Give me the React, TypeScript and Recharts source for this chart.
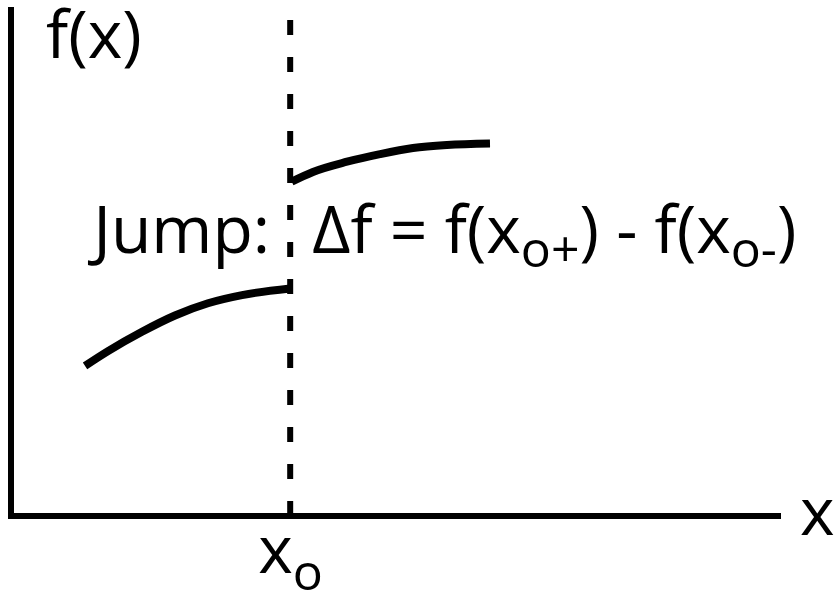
import React from 'react';
import {
  ComposedChart,
  Line,
  XAxis,
  YAxis,
  ReferenceLine,
  Label,
} from 'recharts';

// piece of f(x) left of the jump and piece right of it
const leftPiece = [
  { x: 0.965, y: 2.95 },
  { x: 1.265, y: 3.24 },
  { x: 1.708, y: 3.62 },
  { x: 2.138, y: 3.94 },
  { x: 2.568, y: 4.18 },
  { x: 3.012, y: 4.34 },
  { x: 3.64, y: 4.47 },
];

const rightPiece = [
  { x: 3.66, y: 6.57 },
  { x: 3.937, y: 6.76 },
  { x: 4.381, y: 6.96 },
  { x: 4.811, y: 7.11 },
  { x: 5.241, y: 7.23 },
  { x: 5.684, y: 7.29 },
  { x: 6.245, y: 7.32 },
];

const jumpAt = 3.64;
const xDomain = [0, 10];
const yDomain = [0, 10];

const font = '"Open Sans", "DejaVu Sans", sans-serif';
const big = 66;
const small = 50;

const JumpLabels = (props: any) => {
  const { x, y, height } = props.viewBox;
  const bottom = y + height;
  return (
    <g fill="#000" fontFamily={font}>
      <text x={x - 20} y={253} fontSize={big} textAnchor="end">Jump:</text>
      <text x={x + 22} y={253} fontSize={big}>
        Δf = f(x
        <tspan fontSize={small} dy={14}>o+</tspan>
        <tspan dy={-14}>) - f(x</tspan>
        <tspan fontSize={small} dy={14}>o-</tspan>
        <tspan dy={-14}>)</tspan>
      </text>
      <text x={x - 32} y={bottom + 57} fontSize={big}>
        x<tspan fontSize={small} dy={17}>o</tspan>
      </text>
    </g>
  );
};

const YLabel = (props: any) => {
  const { x, y } = props.viewBox;
  return (
    <text x={x + 36} y={y + 51} fontFamily={font} fontSize={big} fill="#000">
      f(x)
    </text>
  );
};

const XLabel = (props: any) => {
  const { x, y, width } = props.viewBox;
  return (
    <text x={x + width + 22} y={y + 19} fontFamily={font} fontSize={big} fill="#000">
      x
    </text>
  );
};

const App = () => {
  return (
    <div style={{ position: 'absolute', left: 0, top: 0, background: '#fff' }}>
      <ComposedChart
        width={834}
        height={598}
        margin={{ top: 7, right: 56, bottom: 81, left: 10 }}
      >
        <XAxis
          type="number"
          dataKey="x"
          domain={xDomain}
          tick={false}
          tickLine={false}
          height={1}
          axisLine={{ stroke: '#000', strokeWidth: 6, strokeLinecap: 'square' }}
        >
          <Label content={XLabel} />
        </XAxis>
        <YAxis
          type="number"
          dataKey="y"
          domain={yDomain}
          tick={false}
          tickLine={false}
          width={1}
          axisLine={{ stroke: '#000', strokeWidth: 6 }}
        >
          <Label content={YLabel} />
        </YAxis>
        <ReferenceLine
          x={jumpAt}
          stroke="#000"
          strokeWidth={6}
          strokeDasharray="15 22"
        >
          <Label content={JumpLabels} />
        </ReferenceLine>
        <Line
          data={leftPiece}
          dataKey="y"
          type="monotone"
          stroke="#000"
          strokeWidth={8}
          dot={false}
          activeDot={false}
          isAnimationActive={false}
        />
        <Line
          data={rightPiece}
          dataKey="y"
          type="monotone"
          stroke="#000"
          strokeWidth={8}
          dot={false}
          activeDot={false}
          isAnimationActive={false}
        />
      </ComposedChart>
    </div>
  );
};

export default App;
